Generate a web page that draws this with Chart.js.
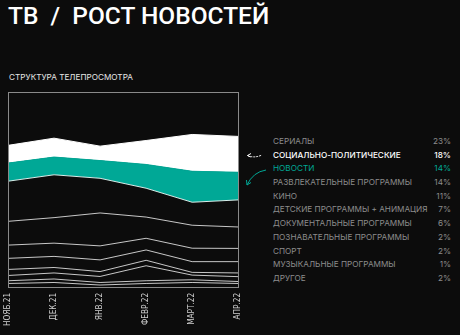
<!DOCTYPE html>
<html>
<head>
<meta charset="utf-8">
<script src="https://cdn.jsdelivr.net/npm/chart.js@4.4.1/dist/chart.umd.min.js"></script>
<style>
  html,body{margin:0;padding:0;background:#0c0c0c;}
  body{width:460px;height:335px;position:relative;overflow:hidden;font-family:Inter,"Noto Sans",sans-serif;}
  #title{position:absolute;left:8px;top:1px;color:#fff;font-family:Roboto,sans-serif;font-size:24.5px;font-weight:500;white-space:pre;}
  #sub{position:absolute;left:9px;top:72px;color:#e6e6e6;font-size:8.2px;}
  #wrap{position:absolute;left:0;top:86px;width:254px;height:246px;}
  #leg{position:absolute;left:273px;top:135px;width:178px;font-size:8.2px;}
  .row{height:13.7px;line-height:13.7px;display:flex;justify-content:space-between;color:#8c8c8c;white-space:nowrap;}
  .row.hl{color:#fff;font-weight:500;}
  .row.tl{color:#00a896;}
  svg{position:absolute;left:0;top:0;}
</style>
</head>
<body>
<div id="title">ТВ  /  РОСТ НОВОСТЕЙ</div>
<div id="sub">СТРУКТУРА ТЕЛЕПРОСМОТРА</div>
<div id="wrap"><canvas id="c"></canvas></div>
<div id="leg"></div>
<svg width="460" height="335">
  <path d="M247.5 155.5 Q254 158.5 262 155" stroke="#fff" stroke-width="1" fill="none" stroke-dasharray="2,1"/>
  <path d="M247.5 155.5 L251 153.5 M247.5 155.5 L250.5 157" stroke="#fff" stroke-width="1" fill="none"/>
  <path d="M266 170 Q253 172 247 185" stroke="#00a896" stroke-width="1" fill="none"/>
  <path d="M247 185 L246.5 180 M247 185 L251 182.5" stroke="#00a896" stroke-width="1" fill="none"/>
</svg>
<script>
var months=['НОЯБ.21','ДЕК.21','ЯНВ.22','ФЕВР.22','МАРТ.22','АПР.22'];
// доли, %, снизу вверх по стеку
var drugoe=[1.7,2.2,0.9,1.7,2.2,1.7];
var muzyka=[1.4,1.8,1.3,1.4,1.4,1.0];
var sport=[2.7,3.1,3.1,7.7,2.4,2.5];
var poznav=[3.1,2.8,2.5,2.8,1.4,1.9];
var dokum=[5.7,5.7,6.0,5.3,5.5,5.8];
var detskie=[6.8,6.8,7.2,6.0,6.9,6.8];
var kino=[12.2,13.1,16.9,10.9,11.8,11.0];
var razvl=[20.6,22.0,17.8,14.8,11.8,13.9];
var novosti=[9.3,9.1,9.1,12.2,15.9,14.2];
var socpol=[9.1,9.7,7.4,12.3,18.9,18.4];
var serialy=[27.4,23.7,27.8,24.9,21.8,22.8];

var legNames=['СЕРИАЛЫ','СОЦИАЛЬНО-ПОЛИТИЧЕСКИЕ','НОВОСТИ','РАЗВЛЕКАТЕЛЬНЫЕ ПРОГРАММЫ','КИНО','ДЕТСКИЕ ПРОГРАММЫ + АНИМАЦИЯ','ДОКУМЕНТАЛЬНЫЕ ПРОГРАММЫ','ПОЗНАВАТЕЛЬНЫЕ ПРОГРАММЫ','СПОРТ','МУЗЫКАЛЬНЫЕ ПРОГРАММЫ','ДРУГОЕ'];
var legPct=['23%','18%','14%','14%','11%','7%','6%','2%','2%','1%','2%'];

var BG='#0c0c0c',LN='#c8c8c8',TEAL='#00a896';

var leg=document.getElementById('leg');
legNames.forEach(function(n,i){
  var e=document.createElement('div');
  e.className='row'+(i==1?' hl':'')+(i==2?' tl':'');
  e.innerHTML='<span>'+n+'</span><span>'+legPct[i]+'</span>';
  leg.appendChild(e);
});

function ds(label,data,bg,bc,idx){
  return {label:label,data:data,backgroundColor:bg,borderColor:bc,borderWidth:1,
    fill:idx==0?'origin':'-1',pointRadius:0,tension:0};
}
var series=[
  ds('ДРУГОЕ',drugoe,BG,LN,0),
  ds('МУЗЫКАЛЬНЫЕ ПРОГРАММЫ',muzyka,BG,LN,1),
  ds('СПОРТ',sport,BG,LN,2),
  ds('ПОЗНАВАТЕЛЬНЫЕ ПРОГРАММЫ',poznav,BG,LN,3),
  ds('ДОКУМЕНТАЛЬНЫЕ ПРОГРАММЫ',dokum,BG,LN,4),
  ds('ДЕТСКИЕ ПРОГРАММЫ + АНИМАЦИЯ',detskie,BG,LN,5),
  ds('КИНО',kino,BG,LN,6),
  ds('РАЗВЛЕКАТЕЛЬНЫЕ ПРОГРАММЫ',razvl,BG,'#d8f0ec',7),
  ds('НОВОСТИ',novosti,TEAL,TEAL,8),
  ds('СОЦИАЛЬНО-ПОЛИТИЧЕСКИЕ',socpol,'#ffffff','#ffffff',9),
  ds('СЕРИАЛЫ',serialy,BG,BG,10)
];

var frame={id:'frame',afterDraw:function(ch){
  var a=ch.chartArea,c=ch.ctx;c.save();c.strokeStyle='#8a8a8a';c.lineWidth=1;
  c.strokeRect(Math.round(a.left)+0.5,Math.round(a.top)+0.5,Math.round(a.right-a.left),Math.round(a.bottom-a.top));c.restore();
}};

new Chart(document.getElementById('c'),{
  type:'line',
  data:{labels:months,datasets:series},
  options:{
    responsive:true,maintainAspectRatio:false,animation:false,
    layout:{padding:{left:8,right:6,top:6,bottom:0}},
    plugins:{legend:{display:false},tooltip:{enabled:false}},
    scales:{
      x:{grid:{display:false,drawTicks:false},border:{display:false},
        ticks:{color:'#cfcfcf',font:{family:'"DejaVu Sans Condensed","Liberation Sans"',size:8.2},maxRotation:90,minRotation:90,padding:6,autoSkip:false}},
      y:{stacked:true,min:0,max:100,display:false}
    }
  },
  plugins:[frame]
});
</script>
</body>
</html>
